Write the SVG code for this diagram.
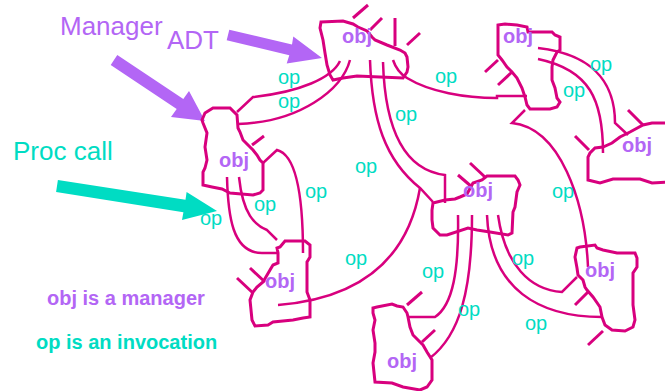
<svg xmlns="http://www.w3.org/2000/svg" width="665" height="391" viewBox="0 0 665 391">
<style>
.blob{fill:none;stroke:#d8007e;stroke-width:3;stroke-linejoin:miter}
.sp{stroke:#d8007e;stroke-width:3;stroke-linecap:butt}
.cn{fill:none;stroke:#d8007e;stroke-width:2.5}
.obj{font-family:"Liberation Sans",Arial,sans-serif;font-weight:bold;font-size:20px;fill:#b366f5}
.op{font-family:"Liberation Sans",Arial,sans-serif;font-size:20px;fill:#00dcc3}
.big{font-family:"Liberation Sans",Arial,sans-serif;font-size:26px}
</style>
<rect width="665" height="391" fill="#fff"/>

<!-- big annotation arrows -->
<g id="arrows">
<polygon fill="#b366f5" points="110.7,65 117.3,55 183.3,99 189,91 205,121 171,117 176.7,109"/>
<polygon fill="#b366f5" points="226.7,40.3 229.3,29.7 292,44.5 293.3,36.4 322,58 286.7,63.6 289.3,55.2"/>
<polygon fill="#00dcc3" points="56.1,191.9 57.9,180.1 185.5,199.8 186.6,192 217,211 182,220 183.4,212.2"/>
</g>
<text class="big" x="60" y="35" fill="#b366f5">Manager</text>
<text class="big" x="167" y="49" fill="#b366f5">ADT</text>
<text class="big" x="13" y="160" fill="#00dcc3">Proc call</text>

<g id="connectors">
<path class="cn" d="M340,61 C332,78 300,92 253,97 L237,112"/>
<path class="cn" d="M350,60 C342,90 300,122 238,124"/>
<path class="cn" d="M370,60 C372,120 385,160 420,188 L433,202"/>
<path class="cn" d="M383,62 C385,130 405,170 445,175 L445,203"/>
<path class="cn" d="M393,60 Q397,72 407,78 C430,92 465,98 497,98 L497,96 L527,96"/>
<path class="cn" d="M525,110 L512,123 C560,128 585,200 588,267"/>
<path class="cn" d="M538,48 C600,55 615,90 615,123 L628,135"/>
<path class="cn" d="M538,59 C590,70 603,100 603,153"/>
<path class="cn" d="M263,163 L277,150 C297,155 303,200 303,253"/>
<path class="cn" d="M227,177 C228,215 232,253 262,253 L277,253"/>
<path class="cn" d="M239,177 C243,215 255,225 267,230 L277,240"/>
<path class="cn" d="M278,305 C340,300 405,275 420,188"/>
<path class="cn" d="M458,215 C459,270 453,305 435,317 L407,317"/>
<path class="cn" d="M472,215 C472,290 460,335 430,358"/>
<path class="cn" d="M487,215 C490,290 540,317 602,317"/>
<path class="cn" d="M498,215 C505,265 530,290 562,292 L577,277"/>
<text class="op" x="278" y="84">op</text>
<text class="op" x="278" y="108">op</text>
<text class="op" x="435" y="83">op</text>
<text class="op" x="590" y="71">op</text>
<text class="op" x="563" y="97">op</text>
<text class="op" x="395" y="121">op</text>
<text class="op" x="355" y="173">op</text>
<text class="op" x="305" y="198">op</text>
<text class="op" x="254" y="211">op</text>
<text class="op" x="200" y="225">op</text>
<text class="op" x="552" y="198">op</text>
<text class="op" x="345" y="265">op</text>
<text class="op" x="422" y="278">op</text>
<text class="op" x="458" y="316">op</text>
<text class="op" x="512" y="265">op</text>
<text class="op" x="525" y="330">op</text>
</g>

<g id="n1">
<polygon class="blob" points="321,22 343,21 353,24 358,27 367,31 372,37 375,40 387,45 400,50 405,53 407,57 408,67 407,72 403,78 380,77 357,76 343,78 333,80 330,75 327,65 325,53 323,40 320,28"/>
<line class="sp" x1="353" y1="18" x2="368" y2="5"/>
<line class="sp" x1="370" y1="30" x2="382" y2="18"/>
<line class="sp" x1="395" y1="18" x2="395" y2="46"/>
<line class="sp" x1="407" y1="45" x2="420" y2="33"/>
<text class="obj" x="342" y="43">obj</text>
</g>
<g id="n2">
<polygon class="blob" points="498,25 505,24 517,25 527,27 528,32 552,32 555,35 560,37 560,50 557,52 553,60 552,67 552,80 555,88 557,98 560,102 557,107 550,109 530,109 527,105 525,97 522,88 517,78 512,72 507,67 502,60 498,55 498,40"/>
<line class="sp" x1="485" y1="72" x2="498" y2="60"/>
<line class="sp" x1="498" y1="85" x2="512" y2="72"/>
<text class="obj" x="503" y="43">obj</text>
</g>
<g id="n3">
<polygon class="blob" points="202,120 205,113 213,108 230,108 237,115 238,128 240,132 243,140 248,145 253,150 257,155 260,160 263,163 263,190 260,193 253,195 230,193 222,189 212,187 203,185 203,172 205,168 207,160 205,147 207,133 203,123"/>
<line class="sp" x1="252" y1="145" x2="264" y2="136"/>
<text class="obj" x="219" y="167">obj</text>
</g>
<g id="n4">
<polyline class="blob" points="667,123 652,123 643,125 630,132 620,137 612,143 603,147 595,148 590,153 588,157 588,180 600,183 613,179 640,179 652,183 667,182"/>
<line class="sp" x1="628" y1="110" x2="643" y2="125"/>
<line class="sp" x1="575" y1="136" x2="589" y2="150"/>
<text class="obj" x="622" y="152">obj</text>
</g>
<g id="n5">
<polygon class="blob" points="433,203 437,202 445,200 455,199 460,197 467,194 473,183 482,180 487,176 515,176 518,180 520,185 517,192 515,207 513,212 512,233 508,235 490,232 477,230 468,228 447,235 440,235 433,228 432,220 432,210"/>
<line class="sp" x1="458" y1="175" x2="472" y2="187"/>
<line class="sp" x1="470" y1="163" x2="485" y2="177"/>
<text class="obj" x="463" y="197">obj</text>
</g>
<g id="n6">
<polygon class="blob" points="280,247 285,241 305,241 310,245 310,257 307,262 307,292 310,300 310,317 303,318 293,320 273,322 268,325 255,326 252,320 250,300 253,292 257,287 263,282 270,270 273,265 278,263 278,253 277,248"/>
<line class="sp" x1="250" y1="268" x2="265" y2="282"/>
<line class="sp" x1="237" y1="278" x2="253" y2="293"/>
<text class="obj" x="265" y="288">obj</text>
</g>
<g id="n7">
<polygon class="blob" points="577,248 580,247 595,245 597,248 603,250 617,253 635,253 637,258 637,267 633,273 633,305 635,320 633,327 625,331 612,330 605,325 602,317 600,307 593,297 587,290 585,287 583,280 578,275 577,268 575,257"/>
<line class="sp" x1="575" y1="305" x2="588" y2="292"/>
<line class="sp" x1="588" y1="345" x2="603" y2="331"/>
<text class="obj" x="585" y="277">obj</text>
</g>
<g id="n8">
<polygon class="blob" points="373,308 377,307 392,304 397,306 403,307 407,313 408,317 410,327 413,335 418,340 423,345 427,352 432,360 432,380 427,387 420,390 403,387 392,383 375,382 373,363 375,352 375,343 373,330 375,320 373,313"/>
<line class="sp" x1="407" y1="305" x2="422" y2="292"/>
<line class="sp" x1="422" y1="342" x2="435" y2="330"/>
<text class="obj" x="387" y="368">obj</text>
</g>

<g id="legend">
<text class="obj" x="47" y="305">obj is a manager</text>
<text class="obj" x="36" y="349" style="fill:#00dcc3">op is an invocation</text>
</g>
</svg>
